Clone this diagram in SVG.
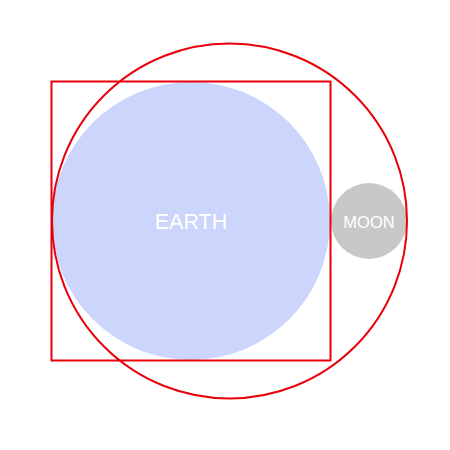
<svg xmlns="http://www.w3.org/2000/svg" width="450" height="450" viewBox="0 0 450 450">
<style>
.outline{fill:none;stroke:#e8000b;stroke-width:2}
.lbl{font-family:"Liberation Sans",Arial,sans-serif;fill:#ffffff;text-anchor:middle;dominant-baseline:central}
</style>
<rect width="450" height="450" fill="#ffffff"/>
<g id="earth">
<circle cx="191" cy="221" r="139" fill="#ccd5fb"/>
<text class="lbl" x="191" y="222" font-size="21.5">EARTH</text>
</g>
<g id="moon">
<circle cx="369" cy="221" r="38" fill="#c8c8c8"/>
<text class="lbl" x="369" y="222" font-size="16.5">MOON</text>
</g>
<g id="square">
<rect class="outline" x="51.5" y="81.5" width="279" height="279"/>
</g>
<g id="orbit">
<circle class="outline" cx="229.5" cy="221" r="177.5"/>
</g>
</svg>
